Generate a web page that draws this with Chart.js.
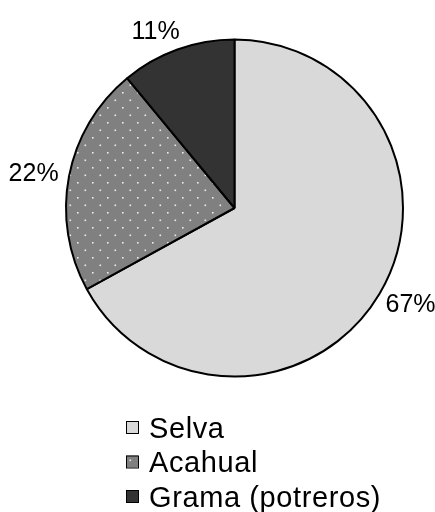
<!DOCTYPE html>
<html>
<head>
<meta charset="utf-8">
<script src="https://cdn.jsdelivr.net/npm/chart.js@4/dist/chart.umd.min.js"></script>
<style>
  html, body { margin: 0; padding: 0; background: #fff; }
  #wrap { width: 435px; height: 512px; }
</style>
</head>
<body>
<div id="wrap"><canvas id="pieChart" width="435" height="512"></canvas></div>
<script>
const labels = ["Selva", "Acahual", "Grama (potreros)"];
const values = [67, 22, 11];
const percentLabels = ["67%", "22%", "11%"];

// dotted fill for Acahual
function dotPattern() {
    const c = document.createElement("canvas");
    c.width = 15;
    c.height = 15;
    const g = c.getContext("2d");
    g.fillStyle = "#808080";
    g.fillRect(0, 0, 15, 15);
    g.fillStyle = "#ececec";
    g.fillRect(2, 2, 1.6, 1.6);
    g.fillRect(9.5, 9.5, 1.6, 1.6);
    return g.createPattern(c, "repeat");
}

const ctx = document.getElementById("pieChart").getContext("2d");
const fills = ["#d9d9d9", dotPattern(), "#333333"];

const outsideLabels = {
    id: "outsideLabels",
    afterDatasetsDraw(chart) {
        const c = chart.ctx;
        const arcs = chart.getDatasetMeta(0).data;
        c.save();
        c.font = "25px 'Liberation Sans', Arial, sans-serif";
        c.fillStyle = "#000";
        c.textAlign = "center";
        c.textBaseline = "middle";
        arcs.forEach((arc, i) => {
            const p = arc.getProps(["x", "y", "startAngle", "endAngle", "outerRadius"], true);
            const mid = (p.startAngle + p.endAngle) / 2;
            const r = p.outerRadius + 11;
            const w = c.measureText(percentLabels[i]).width;
            const h = 18;
            let x = p.x + Math.cos(mid) * (r + w / 2);
            const y = p.y + Math.sin(mid) * (r + h / 2);
            // labels near the top get pushed sideways like the original
            if (Math.sin(mid) < -0.9) x += Math.sign(Math.cos(mid)) * 10;
            c.fillText(percentLabels[i], x, y + 1);
        });
        c.restore();
    }
};

const boxLegend = {
    id: "boxLegend",
    afterDraw(chart) {
        const c = chart.ctx;
        c.save();
        c.font = "29px 'Liberation Sans', Arial, sans-serif";
        c.letterSpacing = "0.6px";
        c.textBaseline = "alphabetic";
        c.textAlign = "left";
        labels.forEach((lab, i) => {
            const top = 421 + i * 34.5;
            c.fillStyle = fills[i];
            c.fillRect(126, top, 12, 12);
            c.strokeStyle = "#000";
            c.lineWidth = 1;
            c.strokeRect(126.5, top + 0.5, 12, 12);
            c.fillStyle = "#000";
            c.fillText(lab, 149, top + 16.5);
        });
        c.restore();
    }
};

new Chart(ctx, {
    type: "pie",
    data: {
        labels: labels,
        datasets: [{
            data: values,
            backgroundColor: fills,
            borderColor: "#000",
            borderWidth: 2
        }]
    },
    options: {
        responsive: false,
        animation: false,
        layout: { padding: { left: 65, right: 31, top: 38, bottom: 134 } },
        plugins: {
            legend: { display: false },
            tooltip: { enabled: false }
        }
    },
    plugins: [outsideLabels, boxLegend]
});
</script>
</body>
</html>
